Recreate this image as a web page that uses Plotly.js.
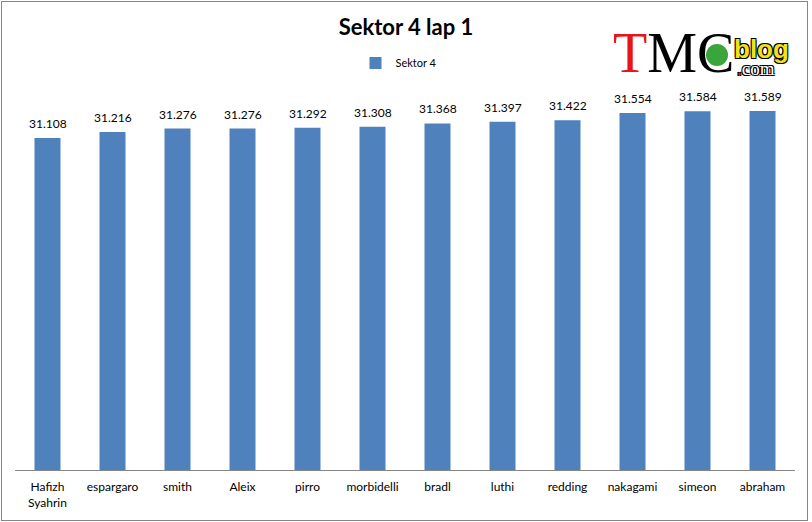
<!DOCTYPE html>
<html>
<head>
<meta charset="utf-8">
<script src="https://cdn.plot.ly/plotly-3.0.1.min.js"></script>
<style>
  body { margin: 0; background: #fff; }
  #graph { width: 812px; height: 522px; }
  #frame { position: absolute; left: 1px; top: 1px; width: 805px; height: 518px;
           border: 1px solid #868686; pointer-events: none; }
</style>
</head>
<body>
<div id="graph"></div>
<div id="frame"></div>
<script>
var riders = ['Hafizh<br>Syahrin', 'espargaro', 'smith', 'Aleix', 'pirro', 'morbidelli',
              'bradl', 'luthi', 'redding', 'nakagami', 'simeon', 'abraham'];
var sektor4 = [31.108, 31.216, 31.276, 31.276, 31.292, 31.308,
               31.368, 31.397, 31.422, 31.554, 31.584, 31.589];

var graph = document.getElementById('graph');
var labelFont = 'Lato, "Open Sans", sans-serif';
var outline = '1px 1px 0 #000, -1px -1px 0 #000, 1px -1px 0 #000, -1px 1px 0 #000';

// plot area is 15..795 px wide, 100..470 px tall
function px(x) { return (x - 15) / 780; }
function py(y) { return (470 - y) / 370; }

var trace = {
  type: 'bar',
  name: 'Sektor 4',
  x: riders,
  y: sektor4,
  marker: { color: '#4f81bd' },
  hoverinfo: 'x+y'
};

var labels = [];
for (var i = 0; i < riders.length; i++) {
  labels.push({
    x: riders[i], y: sektor4[i], xref: 'x', yref: 'y',
    text: sektor4[i].toFixed(3), showarrow: false,
    yanchor: 'bottom', yshift: 5,
    font: { family: labelFont, size: 12, color: '#000' }
  });
}

// TMC blog logo
labels.push({
  xref: 'paper', yref: 'paper', x: px(673), y: py(53),
  text: '<span style="color:#e8141b">T</span>MC', showarrow: false,
  xanchor: 'center', yanchor: 'middle',
  font: { family: '"Liberation Serif", serif', size: 56, color: '#000' }
});
labels.push({
  xref: 'paper', yref: 'paper', x: px(761), y: py(49),
  text: '<b>blog</b>', showarrow: false,
  xanchor: 'center', yanchor: 'middle',
  font: { family: '"Liberation Sans", sans-serif', size: 26, color: '#f2e21a', shadow: outline }
});
labels.push({
  xref: 'paper', yref: 'paper', x: px(756), y: py(68),
  text: '<span style="color:#e8141b">.</span>com', showarrow: false,
  xanchor: 'center', yanchor: 'middle',
  font: { family: '"Liberation Serif", serif', size: 19, color: '#fff', shadow: outline }
});

var layout = {
  width: 812,
  height: 522,
  margin: { l: 15, r: 17, t: 100, b: 52 },
  paper_bgcolor: '#fff',
  plot_bgcolor: '#fff',
  bargap: 0.6,
  title: {
    text: '<b>Sektor 4 lap 1</b>',
    x: 0.5, xanchor: 'center',
    y: 1 - 27 / 522, yanchor: 'middle',
    font: { family: labelFont, size: 22, color: '#000' }
  },
  showlegend: true,
  legend: {
    orientation: 'h',
    x: px(399), xanchor: 'center',
    y: py(63), yanchor: 'middle',
    font: { family: labelFont, size: 11, color: '#000' },
    bgcolor: 'rgba(0,0,0,0)'
  },
  xaxis: {
    type: 'category',
    showline: true,
    linecolor: '#868686',
    linewidth: 1,
    showgrid: false,
    ticks: '',
    ticklabelstandoff: 6,
    tickfont: { family: labelFont, size: 12, color: '#000' },
    fixedrange: true
  },
  yaxis: {
    range: [25.193, 31.785],
    visible: false,
    showgrid: false,
    zeroline: false,
    fixedrange: true
  },
  shapes: [{
    type: 'circle', xref: 'paper', yref: 'paper',
    x0: px(706), x1: px(728), y0: py(44), y1: py(66),
    fillcolor: '#3aa53a', line: { width: 0 }, layer: 'above'
  }],
  annotations: labels
};

Plotly.newPlot(graph, [trace], layout, { displayModeBar: false, staticPlot: true });
</script>
</body>
</html>
